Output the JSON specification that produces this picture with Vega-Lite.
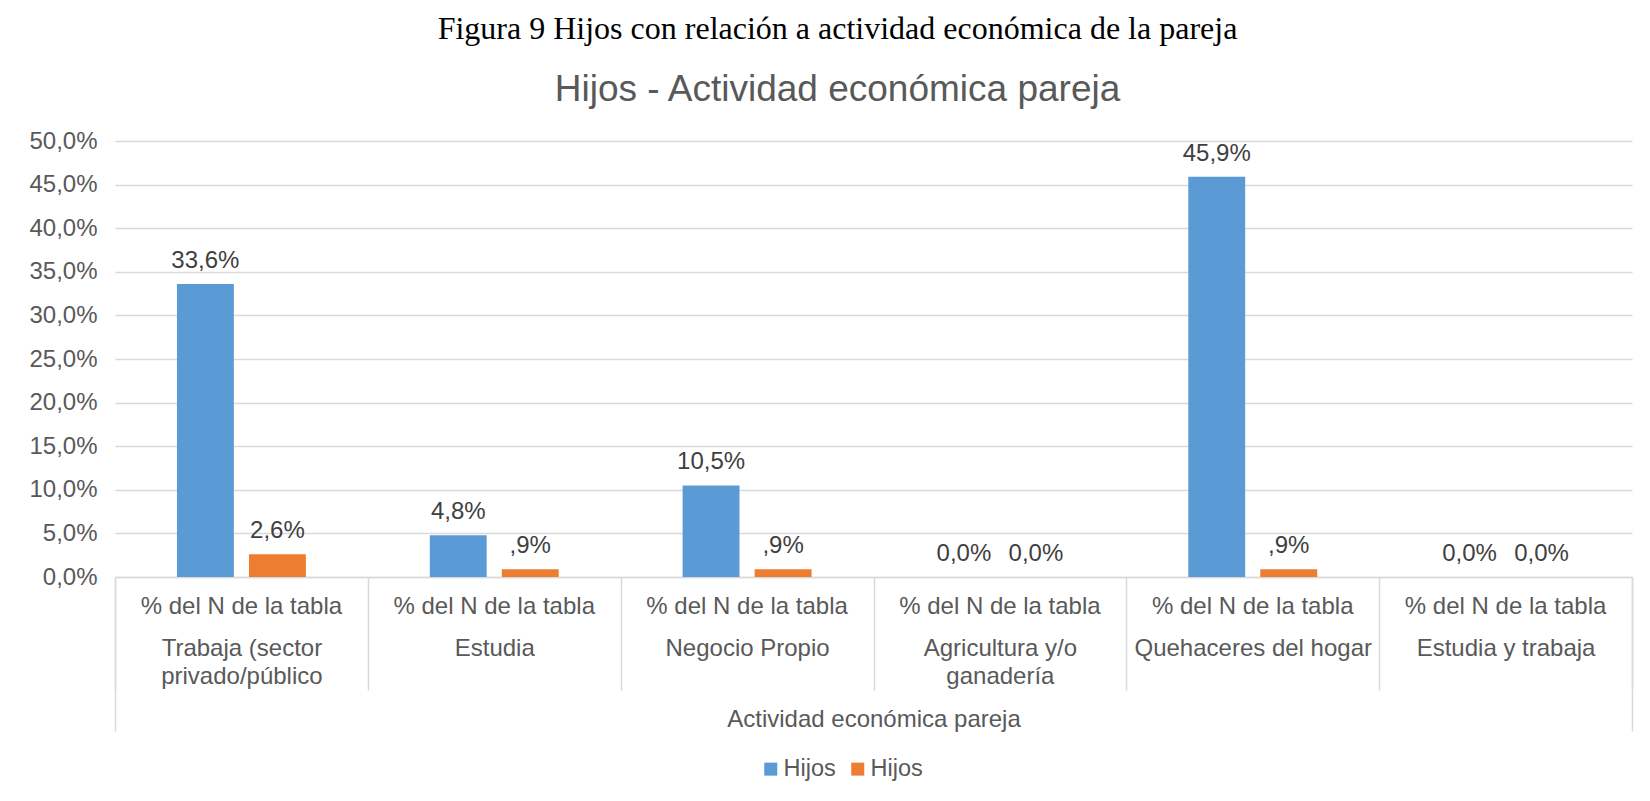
{
  "$schema": "https://vega.github.io/schema/vega-lite/v6.json",
  "width": 1517,
  "height": 436,
  "autosize": {"type": "pad"},
  "padding": {"left": 28, "top": 13, "right": 17, "bottom": 5},
  "background": "#ffffff",
  "title": {
    "text": "Figura 9 Hijos con relación a actividad económica de la pareja",
    "subtitle": "Hijos - Actividad económica pareja",
    "font": "Liberation Serif",
    "fontSize": 32,
    "fontWeight": "normal",
    "color": "#000000",
    "subtitleFont": "Liberation Sans",
    "subtitleFontSize": 37,
    "subtitleColor": "#595959",
    "subtitlePadding": 26,
    "anchor": "middle",
    "frame": "group",
    "dx": -36,
    "offset": 20
  },
  "data": {
    "values": [
      {"actividad": "Trabaja (sector privado/público", "serie": "hijos_1", "valor": 33.6, "etiqueta": "33,6%"},
      {"actividad": "Trabaja (sector privado/público", "serie": "hijos_2", "valor": 2.6, "etiqueta": "2,6%"},
      {"actividad": "Estudia", "serie": "hijos_1", "valor": 4.8, "etiqueta": "4,8%"},
      {"actividad": "Estudia", "serie": "hijos_2", "valor": 0.9, "etiqueta": ",9%"},
      {"actividad": "Negocio Propio", "serie": "hijos_1", "valor": 10.5, "etiqueta": "10,5%"},
      {"actividad": "Negocio Propio", "serie": "hijos_2", "valor": 0.9, "etiqueta": ",9%"},
      {"actividad": "Agricultura y/o ganadería", "serie": "hijos_1", "valor": 0.0, "etiqueta": "0,0%"},
      {"actividad": "Agricultura y/o ganadería", "serie": "hijos_2", "valor": 0.0, "etiqueta": "0,0%"},
      {"actividad": "Quehaceres del hogar", "serie": "hijos_1", "valor": 45.9, "etiqueta": "45,9%"},
      {"actividad": "Quehaceres del hogar", "serie": "hijos_2", "valor": 0.9, "etiqueta": ",9%"},
      {"actividad": "Estudia y trabaja", "serie": "hijos_1", "valor": 0.0, "etiqueta": "0,0%"},
      {"actividad": "Estudia y trabaja", "serie": "hijos_2", "valor": 0.0, "etiqueta": "0,0%"}
    ]
  },
  "encoding": {
    "xOffset": {
      "field": "serie",
      "type": "nominal",
      "scale": {"domain": ["hijos_1", "hijos_2"], "paddingInner": 0.21, "paddingOuter": 0.86}
    },
    "y": {
      "field": "valor",
      "type": "quantitative",
      "scale": {"domain": [0, 50], "nice": false},
      "axis": {
        "values": [0, 5, 10, 15, 20, 25, 30, 35, 40, 45, 50],
        "labelExpr": "replace(format(datum.value, '.1f'), '.', ',') + '%'",
        "labelFont": "Liberation Sans",
        "labelFontSize": 24,
        "labelColor": "#595959",
        "labelPadding": 18,
        "domain": false,
        "ticks": false,
        "grid": true,
        "gridColor": "#d9d9d9",
        "gridWidth": 1.5,
        "title": null
      }
    }
  },
  "layer": [
    {
      "transform": [{"filter": "datum.serie === 'hijos_1'"}],
      "mark": {"type": "bar"},
      "encoding": {
        "x": {
          "field": "actividad",
          "type": "nominal",
          "sort": null,
          "scale": {"paddingInner": 0, "paddingOuter": 0},
          "axis": {
            "orient": "bottom",
            "labelExpr": "'% del N de la tabla'",
            "labelAngle": 0,
            "labelFont": "Liberation Sans",
            "labelFontSize": 24,
            "labelColor": "#595959",
            "labelBaseline": "alphabetic",
            "labelPadding": 36.6,
            "labelOverlap": false,
            "labelLimit": 0,
            "ticks": false,
            "domainColor": "#d9d9d9",
            "domainWidth": 1.5,
            "grid": false,
            "title": "Actividad económica pareja",
            "titleFont": "Liberation Sans",
            "titleFontSize": 24,
            "titleFontWeight": "normal",
            "titleColor": "#595959",
            "titleBaseline": "alphabetic",
            "titleY": 149
          }
        },
        "color": {
          "field": "serie",
          "type": "nominal",
          "scale": {"domain": ["hijos_1", "hijos_2"], "range": ["#5b9bd5", "#ed7d31"]},
          "legend": {
            "orient": "none",
            "legendX": 644,
            "legendY": 616,
            "direction": "horizontal",
            "title": null,
            "labelExpr": "'Hijos'",
            "symbolType": "square",
            "symbolSize": 169,
            "symbolStrokeWidth": 0,
            "labelFont": "Liberation Sans",
            "labelFontSize": 23.5,
            "labelColor": "#595959",
            "labelOffset": 1,
            "columnPadding": 10
          }
        }
      }
    },
    {
      "transform": [{"filter": "datum.serie === 'hijos_2'"}],
      "mark": {"type": "bar"},
      "encoding": {
        "x": {
          "field": "actividad",
          "type": "nominal",
          "sort": null,
          "axis": {
            "orient": "bottom",
            "labelExpr": "datum.value == 'Trabaja (sector privado/público' ? ['Trabaja (sector', 'privado/público'] : datum.value == 'Agricultura y/o ganadería' ? ['Agricultura y/o', 'ganadería'] : datum.value",
            "labelAngle": 0,
            "labelFont": "Liberation Sans",
            "labelFontSize": 24,
            "labelColor": "#595959",
            "labelBaseline": "alphabetic",
            "labelLineHeight": 27.5,
            "labelPadding": -34.4,
            "labelOverlap": false,
            "labelLimit": 0,
            "ticks": true,
            "tickBand": "extent",
            "tickSize": 113,
            "tickColor": "#d9d9d9",
            "tickWidth": 1.5,
            "domain": false,
            "grid": false,
            "title": null
          }
        },
        "color": {"field": "serie", "type": "nominal"}
      }
    },
    {
      "mark": {
        "type": "text",
        "font": "Liberation Sans",
        "fontSize": 24,
        "color": "#404040",
        "align": "center",
        "baseline": "alphabetic",
        "dy": -16
      },
      "encoding": {
        "x": {
          "field": "actividad",
          "type": "nominal",
          "sort": null,
          "axis": {
            "orient": "bottom",
            "labels": false,
            "ticks": true,
            "tickBand": "extent",
            "tickSize": 154,
            "tickColor": "#d9d9d9",
            "tickWidth": 1.5,
            "tickOpacity": {"condition": {"test": "datum.index >= 1 || datum.index < 0", "value": 1}, "value": 0},
            "domain": false,
            "grid": false,
            "title": null
          }
        },
        "text": {"field": "etiqueta", "type": "nominal"}
      }
    }
  ],
  "resolve": {"axis": {"x": "independent"}},
  "config": {
    "view": {"stroke": null}
  }
}
